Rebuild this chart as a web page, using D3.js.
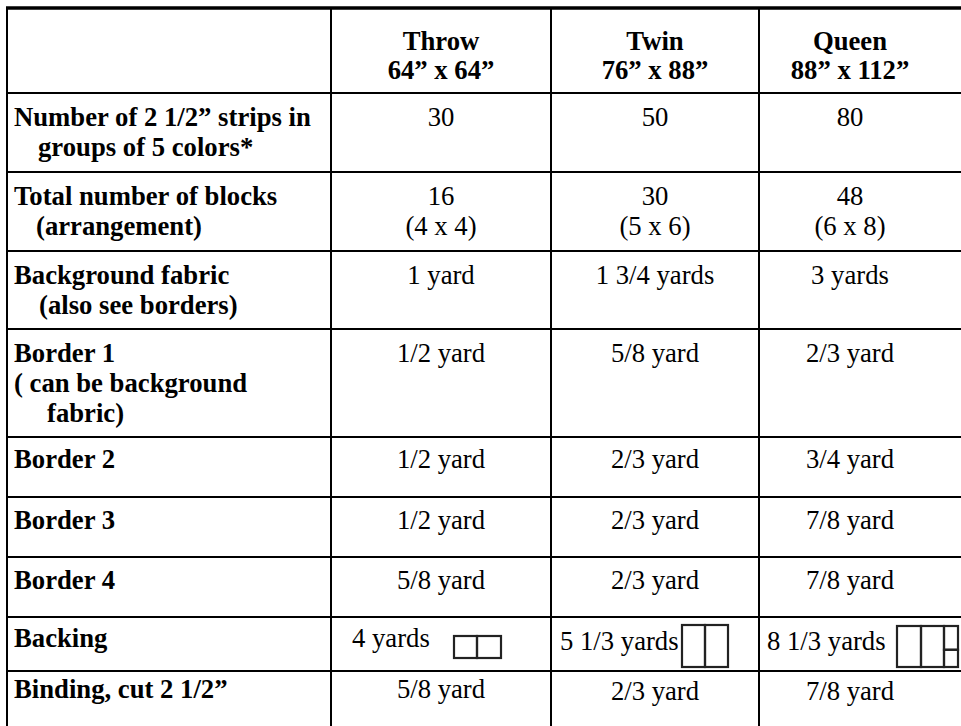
<!DOCTYPE html>
<html>
<head>
<meta charset="utf-8">
<script src="https://cdn.jsdelivr.net/npm/d3@7/dist/d3.min.js"></script>
<style>
html,body{margin:0;padding:0;background:#fff;}
svg{display:block;}
text{font-family:"Liberation Serif","Times New Roman",serif;font-size:26.7px;fill:#000;}
.b{font-weight:bold;}
</style>
</head>
<body>
<svg id="chart" width="961" height="726"></svg>
<script>
// ---------- data ----------
const columns = ["Throw", "Twin", "Queen"];
const sizes = ["64” x 64”", "76” x 88”", "88” x 112”"];
const rowLabels = [
  ["Number of 2 1/2” strips in", "groups of 5 colors*"],
  ["Total number of blocks", "(arrangement)"],
  ["Background fabric", "(also see borders)"],
  ["Border 1", "( can be background", "fabric)"],
  ["Border 2"],
  ["Border 3"],
  ["Border 4"],
  ["Backing"],
  ["Binding, cut 2 1/2”"]
];
const throwValues = [["30"], ["16", "(4 x 4)"], ["1 yard"], ["1/2 yard"], ["1/2 yard"], ["1/2 yard"], ["5/8 yard"], ["4 yards"], ["5/8 yard"]];
const twinValues  = [["50"], ["30", "(5 x 6)"], ["1 3/4 yards"], ["5/8 yard"], ["2/3 yard"], ["2/3 yard"], ["2/3 yard"], ["5 1/3 yards"], ["2/3 yard"]];
const queenValues = [["80"], ["48", "(6 x 8)"], ["3 yards"], ["2/3 yard"], ["3/4 yard"], ["7/8 yard"], ["7/8 yard"], ["8 1/3 yards"], ["7/8 yard"]];
const backingPanels = [2, 2, 3];      // number of panels in the backing diagram
const backingSplitLast = [false, false, true];
const backingRow = 7;

// ---------- layout ----------
const W = 961;
const colEdges = [7, 331, 551, 759, 941];
const headerTop = 8, headerBottom = 93;
const rowHeights = [79, 79, 78, 108, 60, 60, 60, 54, 60];
const firstBaseline = [33, 33, 33, 33, 31, 32, 32, 30, 27];
const colBaselineShift = [[0,0,0,0,0,0,0,0,0],[0,0,0,0,0,0,0,0,2],[0,0,0,0,0,0,0,0,2]];
const lineGap = 30;
const labelIndent = [[0, 24], [0, 22], [0, 25], [0, 0, 33], [0], [0], [0], [0], [0]];
const labelX = 14;

const rowTops = [headerBottom];
rowHeights.forEach((h, i) => rowTops.push(rowTops[i] + h));
const rowIdx = d3.range(rowLabels.length);
const y = d3.scaleOrdinal().domain(rowIdx).range(rowTops);
const colLeft = c => colEdges[columns.indexOf(c) + 1];
const colRight = c => colEdges[columns.indexOf(c) + 2];
const colCenter = c => (colLeft(c) + colRight(c)) / 2;

const svg = d3.select("#chart");
const values = [throwValues, twinValues, queenValues];

// ---------- grid lines ----------
const g = svg.append("g");
g.append("line").attr("x1", colEdges[0] - 1).attr("x2", W).attr("y1", headerTop).attr("y2", headerTop)
  .attr("stroke", "#000").attr("stroke-width", 3.5);
g.selectAll("line.h").data(rowTops).join("line").attr("class", "h")
  .attr("x1", colEdges[0]).attr("x2", W)
  .attr("y1", d => d).attr("y2", d => d)
  .attr("stroke", "#000").attr("stroke-width", 2);
g.selectAll("line.v").data(colEdges.slice(0, 4)).join("line").attr("class", "v")
  .attr("x1", d => d).attr("x2", d => d)
  .attr("y1", headerTop).attr("y2", 726)
  .attr("stroke", "#000").attr("stroke-width", 2);

// ---------- header ----------
const hdr = svg.append("g");
columns.forEach((c, i) => {
  hdr.append("text").attr("class", "b").attr("text-anchor", "middle")
    .attr("x", colCenter(c)).attr("y", 50).text(c);
  hdr.append("text").attr("class", "b").attr("text-anchor", "middle")
    .attr("x", colCenter(c)).attr("y", 79).text(sizes[i]);
});

// ---------- row labels ----------
rowLabels.forEach((lines, r) => {
  lines.forEach((ln, k) => {
    svg.append("text").attr("class", "b")
      .attr("x", labelX + labelIndent[r][k])
      .attr("y", y(r) + firstBaseline[r] + k * lineGap)
      .text(ln);
  });
});

// ---------- values ----------
const backingTextX = [21, 9, 8];
const backingBase = [30, 33, 33];
const iconX = [123, 131, 138];
const iconTop = [19, 8, 9];
const iconW = [[23, 24], [23, 23], [24, 23, 14]];
const iconH = [22, 42, 41];

columns.forEach((c, ci) => {
  values[ci].forEach((lines, r) => {
    if (r === backingRow) {
      svg.append("text").attr("x", colLeft(c) + backingTextX[ci])
        .attr("y", y(r) + backingBase[ci]).text(lines[0]);
      let x0 = colLeft(c) + iconX[ci];
      const top = y(r) + iconTop[ci];
      const ig = svg.append("g");
      d3.range(backingPanels[ci]).forEach(p => {
        const w = iconW[ci][p];
        if (backingSplitLast[ci] && p === backingPanels[ci] - 1) {
          const h1 = iconH[ci] * 0.58;
          ig.append("rect").attr("x", x0).attr("y", top).attr("width", w).attr("height", h1)
            .attr("fill", "none").attr("stroke", "#222").attr("stroke-width", 2.2);
          ig.append("rect").attr("x", x0).attr("y", top + h1).attr("width", w).attr("height", iconH[ci] - h1)
            .attr("fill", "none").attr("stroke", "#222").attr("stroke-width", 2.2);
        } else {
          ig.append("rect").attr("x", x0).attr("y", top).attr("width", w).attr("height", iconH[ci])
            .attr("fill", "none").attr("stroke", "#222").attr("stroke-width", 2.2);
        }
        x0 += w;
      });
    } else {
      lines.forEach((ln, k) => {
        svg.append("text").attr("text-anchor", "middle")
          .attr("x", colCenter(c))
          .attr("y", y(r) + firstBaseline[r] + colBaselineShift[ci][r] + k * lineGap)
          .text(ln);
      });
    }
  });
});
</script>
</body>
</html>
